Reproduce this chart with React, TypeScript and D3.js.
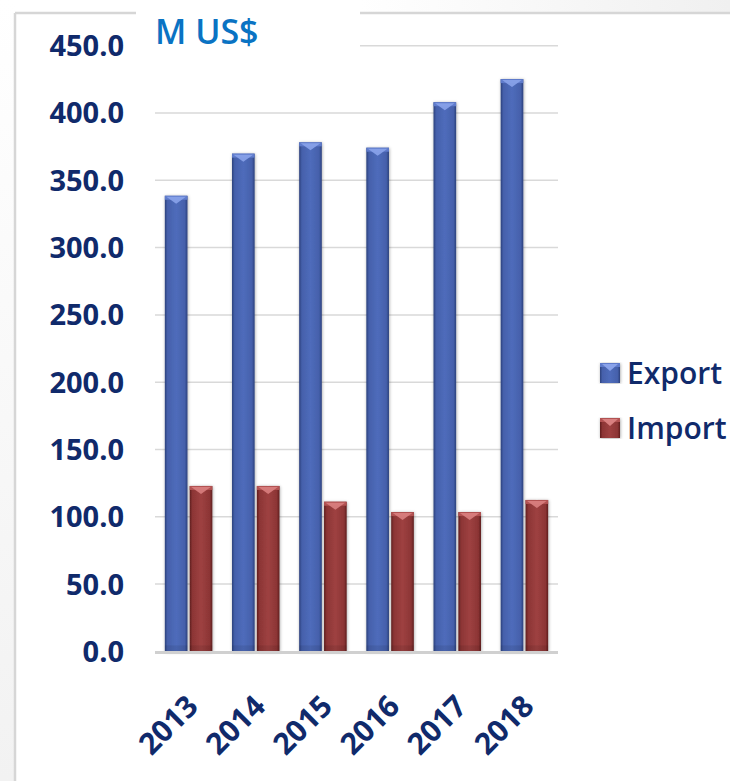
import React from "react";
import * as d3 from "d3";

const years = ["2013", "2014", "2015", "2016", "2017", "2018"];
const exportValues = [338.5, 369.8, 378.2, 374.2, 408.0, 425.2];
const importValues = [122.9, 122.9, 111.2, 103.5, 103.5, 112.5];
const seriesNames = ["Export", "Import"];
const yTicks = [0, 50, 100, 150, 200, 250, 300, 350, 400, 450];
const unitLabel = "M US$";

const W = 730;
const H = 781;
const FONT = "'Open Sans', 'Noto Sans', sans-serif";
const NAVY = "#102a6b";

export default function App() {
  const y = d3.scaleLinear().domain([0, 450]).range([651.4, 45.7]);
  const x = d3.scaleBand<string>().domain(years).range([155, 558]).paddingInner(0.293).paddingOuter(0.1465);
  const xs = d3.scaleBand<string>().domain(seriesNames).range([0, x.bandwidth()]).paddingInner(0.09);
  const grads: Record<string, string> = { Export: "url(#gBlue)", Import: "url(#gRed)" };
  const tops: Record<string, string> = { Export: "#8aa3ea", Import: "#d98080" };
  const topBand: Record<string, string> = { Export: "#5f7bcb", Import: "#b25252" };
  const data = [exportValues, importValues];

  const bar = (sx: number, v: number, s: string, key: string) => {
    const w = xs.bandwidth();
    const top = y(v);
    const bottom = y(0);
    return (
      <g key={key}>
        <rect x={sx} y={top} width={w} height={bottom - top} fill={grads[s]} filter="url(#shadow)" />
        <rect x={sx} y={top} width={w} height={4} fill={topBand[s]} />
        <polygon
          points={`${sx + 1.5},${top + 1} ${sx + w - 1.5},${top + 1} ${sx + w / 2},${top + 8}`}
          fill={tops[s]}
          opacity={0.9}
        />
        <rect x={sx} y={bottom - 6} width={w} height={6} fill="#000" opacity={0.08} />
      </g>
    );
  };

  return (
    <svg width={W} height={H} style={{ position: "absolute", left: 0, top: 0 }} fontFamily={FONT}>
      <defs>
        <linearGradient id="gBlue" x1="0" x2="1" y1="0" y2="0">
          <stop offset="0%" stopColor="#2c417c" />
          <stop offset="12%" stopColor="#4560ab" />
          <stop offset="50%" stopColor="#4f6cbb" />
          <stop offset="88%" stopColor="#4560ab" />
          <stop offset="100%" stopColor="#2c417c" />
        </linearGradient>
        <linearGradient id="gRed" x1="0" x2="1" y1="0" y2="0">
          <stop offset="0%" stopColor="#5e1e1e" />
          <stop offset="12%" stopColor="#8c3535" />
          <stop offset="50%" stopColor="#9e4141" />
          <stop offset="88%" stopColor="#8c3535" />
          <stop offset="100%" stopColor="#5e1e1e" />
        </linearGradient>
        <linearGradient id="gLeft" x1="0" x2="0" y1="0" y2="1">
          <stop offset="0%" stopColor="#ffffff" />
          <stop offset="100%" stopColor="#f2f2f2" />
        </linearGradient>
        <linearGradient id="gTop" x1="0" x2="1" y1="0" y2="0">
          <stop offset="0%" stopColor="#ffffff" />
          <stop offset="100%" stopColor="#f0f0f0" />
        </linearGradient>
        <filter id="shadow" x="-30%" y="-5%" width="160%" height="110%">
          <feDropShadow dx="0.5" dy="0.5" stdDeviation="1.5" floodColor="#000" floodOpacity="0.35" />
        </filter>
      </defs>
      <rect x={0} y={0} width={W} height={H} fill="#fff" />
      <rect x={0} y={0} width={15} height={H} fill="url(#gLeft)" />
      <rect x={360} y={0} width={W - 360} height={13} fill="url(#gTop)" />
      {/* chart border */}
      <line x1={15} x2={15} y1={13} y2={H} stroke="#d6d6d6" strokeWidth={2.5} />
      <line x1={15} x2={W} y1={13} y2={13} stroke="#d6d6d6" strokeWidth={2.5} />

      {/* gridlines */}
      {yTicks.filter((t) => t > 0).map((t) => (
        <line key={t} x1={155} x2={558} y1={y(t)} y2={y(t)} stroke="#d9d9d9" strokeWidth={1.5} />
      ))}

      {/* title box */}
      <rect x={136} y={0} width={224} height={92} fill="#fff" />
      <text x={155} y={44} fontSize={34} fontWeight={600} fill="#0a73c3">{unitLabel}</text>

      {/* bars */}
      {years.map((yr, i) =>
        seriesNames.map((s, si) => bar((x(yr) as number) + (xs(s) as number), data[si][i], s, yr + s))
      )}

      {/* baseline */}
      <line x1={155} x2={558} y1={y(0) + 1} y2={y(0) + 1} stroke="#d0d0d0" strokeWidth={3} />

      {/* y labels */}
      {yTicks.map((t) => (
        <text key={t} x={124} y={y(t)} dy="0.36em" textAnchor="end" fontSize={29} fontWeight={700} fill={NAVY}>
          {t.toFixed(1)}
        </text>
      ))}

      {/* x labels */}
      {years.map((yr) => {
        const ax = (x(yr) as number) + x.step() / 2 - 3.5 + 5;
        const ay = 708;
        return (
          <text key={yr} x={ax} y={ay} transform={`rotate(-45 ${ax} ${ay})`} textAnchor="end" fontSize={30} fontWeight={700} fill={NAVY}>
            {yr}
          </text>
        );
      })}

      {/* legend */}
      {seriesNames.map((s, i) => {
        const ly = 363 + i * 55;
        return (
          <g key={s}>
            <rect x={600} y={ly} width={20} height={20} fill={grads[s]} filter="url(#shadow)" />
            <rect x={600} y={ly} width={20} height={4} fill={topBand[s]} />
            <polygon points={`${602},${ly + 1} ${618},${ly + 1} ${610},${ly + 8}`} fill={tops[s]} />
            <text x={627} y={ly + 21} fontSize={30} fontWeight={600} fill={NAVY}>{s}</text>
          </g>
        );
      })}
    </svg>
  );
}
